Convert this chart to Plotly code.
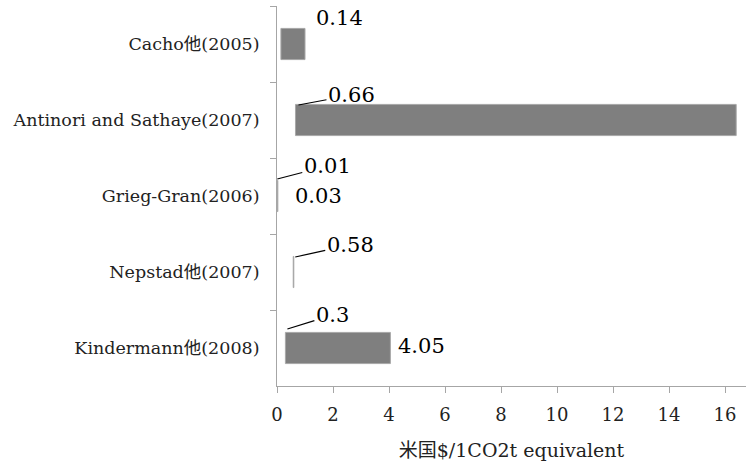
import plotly.graph_objects as go

categories = ["Cacho他(2005)", "Antinori and Sathaye(2007)", "Grieg-Gran(2006)",
              "Nepstad他(2007)", "Kindermann他(2008)"]
mins = [0.14, 0.66, 0.01, 0.58, 0.3]
maxs = [1.0, 16.4, 0.03, 0.6, 4.05]
x_ticks = [0, 2, 4, 6, 8, 10, 12, 14, 16]
x_title = "米国$/1CO2t equivalent"

FONT = "DejaVu Serif, Noto Sans CJK JP"

lengths = [b - a for a, b in zip(mins, maxs)]

fig = go.Figure()
fig.add_trace(go.Bar(
    y=categories, x=lengths, base=mins, orientation="h",
    width=0.41,
    marker=dict(color="#7f7f7f", line=dict(color="#a8a8a8", width=1)),
    showlegend=False, hoverinfo="skip",
))

ann = []
# min labels with leader lines (cat index, xshift, yshift, ax, ay)
leader = {1: (3, 15, 53, -10), 2: (0, 17, 50, -13), 3: (2, 15, 55, -12), 4: (2, 19, 45, -14)}
for i, (xs, ys, ax, ay) in leader.items():
    ann.append(dict(x=mins[i], y=categories[i], xref="x", yref="y",
                    text=str(mins[i]), showarrow=True, arrowhead=0, arrowwidth=1.2,
                    arrowcolor="black", ax=ax, ay=ay, xshift=xs, yshift=ys,
                    font=dict(family=FONT, size=21, color="black")))
# Cacho min label, no leader
ann.append(dict(x=mins[0], y=categories[0], xref="x", yref="y", text=str(mins[0]),
                showarrow=False, xshift=59, yshift=26,
                font=dict(family=FONT, size=21, color="black")))
# Grieg-Gran max label
ann.append(dict(x=maxs[2], y=categories[2], xref="x", yref="y", text=str(maxs[2]),
                showarrow=False, xshift=41, yshift=0,
                font=dict(family=FONT, size=21, color="black")))
# Kindermann max label
ann.append(dict(x=maxs[4], y=categories[4], xref="x", yref="y", text=str(maxs[4]),
                showarrow=False, xanchor="left", xshift=6, yshift=2,
                font=dict(family=FONT, size=21, color="black")))

fig.update_layout(
    width=748, height=461,
    margin=dict(l=277, r=2, t=6, b=75, autoexpand=False),
    plot_bgcolor="white", paper_bgcolor="white",
    font=dict(family=FONT, size=16, color="#222"),
    annotations=ann,
    bargap=0.59,
)
fig.update_xaxes(
    range=[0, 16.75], tickvals=x_ticks, ticktext=[str(t) for t in x_ticks],
    showgrid=False, zeroline=False, showline=True, linecolor="#a6a6a6", linewidth=1,
    ticks="outside", ticklen=6, tickcolor="#a6a6a6", ticklabelstandoff=6,
    tickfont=dict(family=FONT, size=18, color="#222"), automargin=False,
    title=dict(text=x_title, font=dict(family=FONT, size=19, color="#222"), standoff=22),
)
fig.update_yaxes(
    categoryorder="array", categoryarray=categories, range=[4.5, -0.5],
    showgrid=False, zeroline=False, showline=True, linecolor="#a6a6a6", linewidth=1,
    ticks="outside", ticklen=6, tickcolor="#a6a6a6", tickson="boundaries",
    tickfont=dict(family=FONT, size=17.5, color="#222"), ticklabelstandoff=13,
    automargin=False,
)

fig.write_html("out.html", config={"displayModeBar": False},
               post_script="document.body.style.margin='0';")
